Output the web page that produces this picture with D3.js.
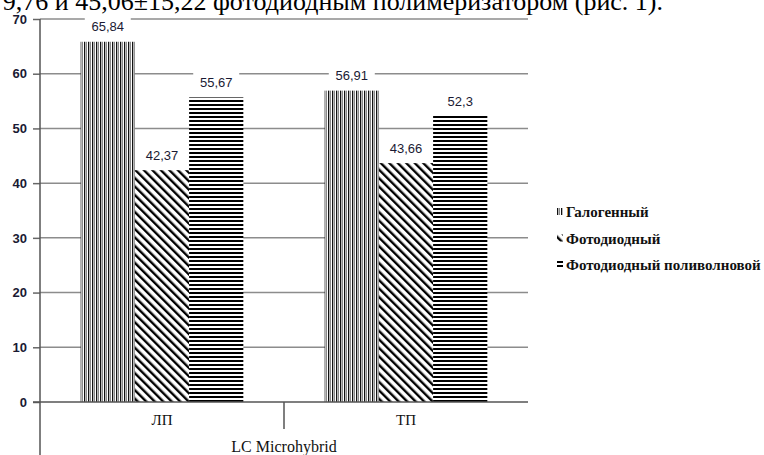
<!DOCTYPE html>
<html>
<head>
<meta charset="utf-8">
<script src="https://cdn.jsdelivr.net/npm/d3@7"></script>
<style>
  html, body { margin: 0; padding: 0; background: #fff; }
  svg { display: block; }
</style>
</head>
<body>
<svg id="chart" width="764" height="455"></svg>
<script>
// Polymerisation depth by curing lamp, LC Microhybrid composite
const categories = ["ЛП", "ТП"];
const seriesNames = ["Галогенный", "Фотодиодный", "Фотодиодный  поливолновой"];
const halogenValues = [65.84, 56.91];
const ledValues = [42.37, 43.66];
const polywaveValues = [55.67, 52.3];
const valueLabels = [["65,84", "56,91"], ["42,37", "43,66"], ["55,67", "52,3"]];
const yTicks = [0, 10, 20, 30, 40, 50, 60, 70];
const groupTitle = "LC Microhybrid";
const caption = "9,76 и 45,06±15,22 фотодиодным полимеризатором (рис. 1).";

const seriesValues = [halogenValues, ledValues, polywaveValues];

const svg = d3.select("#chart");
const serif = "'Liberation Serif', 'Times New Roman', serif";
const sans = "'Liberation Sans', Arial, sans-serif";

// Fill patterns: vertical, diagonal and horizontal hatching
const defs = svg.append("defs");
const pVert = defs.append("pattern").attr("id", "pat0")
  .attr("patternUnits", "userSpaceOnUse").attr("width", 4).attr("height", 4);
pVert.append("rect").attr("width", 4).attr("height", 4).attr("fill", "#fff");
pVert.append("rect").attr("x", 0).attr("width", 1.3).attr("height", 4).attr("fill", "#111");
pVert.append("rect").attr("x", 2).attr("width", 1).attr("height", 4).attr("fill", "#8a8a8a");

const pDiag = defs.append("pattern").attr("id", "pat1")
  .attr("patternUnits", "userSpaceOnUse").attr("width", 6).attr("height", 6)
  .attr("patternTransform", "rotate(-45)");
pDiag.append("rect").attr("width", 6).attr("height", 6).attr("fill", "#fff");
pDiag.append("rect").attr("x", 0).attr("width", 2.4).attr("height", 6).attr("fill", "#000");

const pHor = defs.append("pattern").attr("id", "pat2")
  .attr("patternUnits", "userSpaceOnUse").attr("width", 4).attr("height", 4);
pHor.append("rect").attr("width", 4).attr("height", 4).attr("fill", "#fff");
pHor.append("rect").attr("y", 0).attr("width", 4).attr("height", 2).attr("fill", "#000");

// Top caption line, running off the top edge of the page
svg.append("text")
  .attr("x", 663).attr("y", 10)
  .attr("text-anchor", "end")
  .attr("font-family", serif).attr("font-size", 26).attr("fill", "#000")
  .text(caption);

const plotLeft = 40, plotRight = 528, plotTop = 19, plotBottom = 402;

const y = d3.scaleLinear().domain([0, 70]).range([plotBottom, plotTop]);
const x0 = d3.scaleBand().domain(categories).range([plotLeft, plotRight]);
const x1 = d3.scaleBand().domain(d3.range(seriesNames.length))
  .range([x0.bandwidth() / 6, x0.bandwidth() * 5 / 6]);

// Horizontal gridlines
svg.append("g").selectAll("line").data(yTicks.filter(d => d > 0)).join("line")
  .attr("x1", plotLeft).attr("x2", plotRight)
  .attr("y1", d => y(d)).attr("y2", d => y(d))
  .attr("stroke", "#8c8c8c").attr("stroke-width", 1.5);

// Y axis
const yAxis = d3.axisLeft(y).tickValues(yTicks).tickSize(7).tickPadding(6);
const gy = svg.append("g").attr("transform", `translate(${plotLeft},0)`).call(yAxis);
gy.select(".domain").remove();
gy.selectAll(".tick line").attr("stroke", "#666").attr("stroke-width", 1.5);
gy.selectAll(".tick text")
  .attr("font-family", sans).attr("font-size", 13).attr("font-weight", "bold")
  .attr("fill", "#1a1a33");
svg.append("line").attr("x1", plotLeft).attr("x2", plotLeft).attr("y1", plotTop).attr("y2", 455)
  .attr("stroke", "#555").attr("stroke-width", 1.5);

// Bars
const groups = svg.append("g").selectAll("g").data(categories).join("g")
  .attr("transform", d => `translate(${x0(d)},0)`);

groups.each(function(cat, ci) {
  const g = d3.select(this);
  seriesValues.forEach((vals, si) => {
    g.append("rect")
      .attr("x", x1(si)).attr("width", x1.bandwidth())
      .attr("y", y(vals[ci])).attr("height", y(0) - y(vals[ci]))
      .attr("fill", `url(#pat${si})`);
  });
});

// Value labels with white backing
groups.each(function(cat, ci) {
  const g = d3.select(this);
  seriesValues.forEach((vals, si) => {
    const cx = x1(si) + x1.bandwidth() / 2;
    const cy = y(vals[ci]) - 15;
    g.append("rect").attr("x", cx - 23).attr("y", cy - 11).attr("width", 46).attr("height", 22)
      .attr("fill", "#fff");
    g.append("text").attr("x", cx).attr("y", cy).attr("dy", "0.36em")
      .attr("text-anchor", "middle")
      .attr("font-family", sans).attr("font-size", 13).attr("fill", "#1a1a33")
      .text(valueLabels[si][ci]);
  });
});

// Baseline and category dividers
svg.append("line").attr("x1", plotLeft - 7).attr("x2", plotRight).attr("y1", plotBottom).attr("y2", plotBottom)
  .attr("stroke", "#555").attr("stroke-width", 1.5);
svg.append("line").attr("x1", x0("ТП")).attr("x2", x0("ТП")).attr("y1", plotBottom).attr("y2", plotBottom + 27)
  .attr("stroke", "#555").attr("stroke-width", 1.5);

svg.append("g").selectAll("text").data(categories).join("text")
  .attr("x", d => x0(d) + x0.bandwidth() / 2).attr("y", 425)
  .attr("text-anchor", "middle")
  .attr("font-family", serif).attr("font-size", 15).attr("fill", "#111")
  .text(d => d);

svg.append("text").attr("x", (plotLeft + plotRight) / 2).attr("y", 452)
  .attr("text-anchor", "middle")
  .attr("font-family", serif).attr("font-size", 16).attr("fill", "#111")
  .text(groupTitle);

// Legend
const legend = svg.append("g").selectAll("g").data(seriesNames).join("g")
  .attr("transform", (d, i) => `translate(557,${212 + i * 26.5})`);
legend.append("rect").attr("x", 0).attr("y", -4).attr("width", 6).attr("height", 7)
  .attr("fill", (d, i) => `url(#pat${i})`);
legend.append("text").attr("x", 9).attr("y", 0).attr("dy", "0.35em")
  .attr("font-family", serif).attr("font-size", 15).attr("font-weight", "bold")
  .attr("fill", "#111")
  .text(d => d);
</script>
</body>
</html>
